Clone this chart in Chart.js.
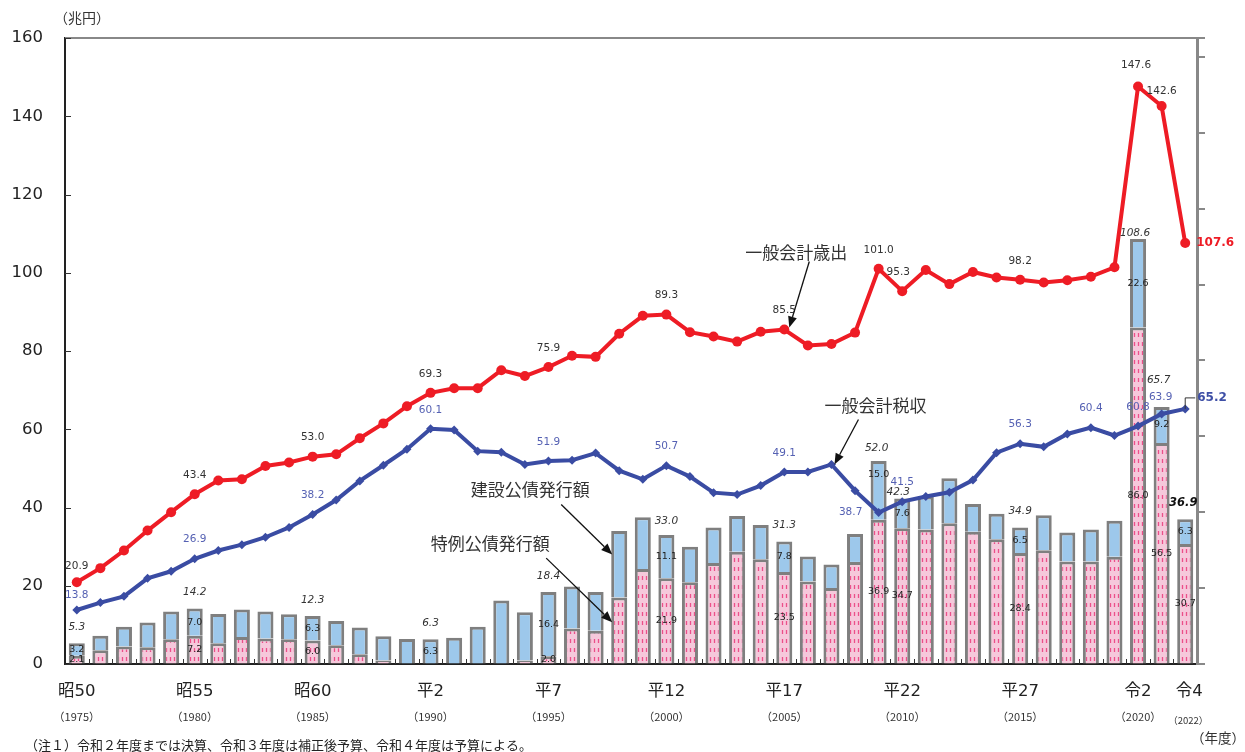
<!DOCTYPE html>
<html>
<head>
<meta charset="utf-8">
<script src="https://cdn.jsdelivr.net/npm/chart.js@4.4.1/dist/chart.umd.min.js"></script>
<style>
  html, body { margin: 0; padding: 0; background: #fff; }
</style>
</head>
<body>
<canvas id="myChart" width="1245" height="752"></canvas>
<script>
// fiscal years 1975 - 2022, trillion yen
const years = [1975, 1976, 1977, 1978, 1979, 1980, 1981, 1982, 1983, 1984,
               1985, 1986, 1987, 1988, 1989, 1990, 1991, 1992, 1993, 1994,
               1995, 1996, 1997, 1998, 1999, 2000, 2001, 2002, 2003, 2004,
               2005, 2006, 2007, 2008, 2009, 2010, 2011, 2012, 2013, 2014,
               2015, 2016, 2017, 2018, 2019, 2020, 2021, 2022];

const expenditure = [20.9, 24.5, 29.0, 34.1, 38.8, 43.4, 46.9, 47.2, 50.6, 51.5,
                     53.0, 53.6, 57.7, 61.5, 65.9, 69.3, 70.5, 70.5, 75.1, 73.6,
                     75.9, 78.8, 78.5, 84.4, 89.0, 89.3, 84.8, 83.7, 82.4, 84.9,
                     85.5, 81.4, 81.8, 84.7, 101.0, 95.3, 100.7, 97.1, 100.2, 98.8,
                     98.2, 97.5, 98.1, 99.0, 101.4, 147.6, 142.6, 107.6];

const taxRevenue = [13.8, 15.7, 17.3, 21.9, 23.7, 26.9, 29.0, 30.5, 32.4, 34.9,
                    38.2, 41.9, 46.8, 50.8, 54.9, 60.1, 59.8, 54.4, 54.1, 51.0,
                    51.9, 52.1, 53.9, 49.4, 47.2, 50.7, 47.9, 43.8, 43.3, 45.6,
                    49.1, 49.1, 51.0, 44.3, 38.7, 41.5, 42.8, 43.9, 47.0, 54.0,
                    56.3, 55.5, 58.8, 60.4, 58.4, 60.8, 63.9, 65.2];

const constructionBonds = [3.2, 3.7, 5.0, 6.3, 7.1, 7.0, 7.5, 7.0, 6.9, 6.4,
                           6.3, 6.2, 6.8, 6.2, 6.4, 6.3, 6.7, 9.5, 16.2, 12.3,
                           16.4, 10.7, 9.9, 17.0, 13.2, 11.1, 9.1, 9.1, 9.1, 8.7,
                           7.8, 6.4, 6.0, 7.1, 15.0, 7.6, 8.4, 11.5, 7.1, 6.5,
                           6.5, 8.9, 7.4, 8.2, 9.2, 22.6, 9.2, 6.3];

const specialBonds = [2.1, 3.5, 4.5, 4.3, 6.3, 7.2, 5.3, 6.9, 6.5, 6.3,
                      6.0, 4.8, 2.5, 0.9, 0, 0, 0, 0, 0, 0.9,
                      2.0, 9.1, 8.5, 17.0, 24.3, 21.9, 20.9, 25.8, 28.7, 26.8,
                      23.5, 21.1, 19.4, 26.1, 36.9, 34.7, 34.4, 36.0, 33.8, 31.9,
                      28.4, 29.1, 26.2, 26.2, 27.4, 86.0, 56.5, 30.7];

// labelled points
const expLabelYears = [1975, 1980, 1985, 1990, 1995, 2000, 2005, 2009, 2010, 2015, 2020, 2021, 2022];
const taxLabelYears = [1975, 1980, 1985, 1990, 1995, 2000, 2005, 2009, 2010, 2015, 2018, 2020, 2021, 2022];
const bondLabelYears = [1975, 1980, 1985, 1990, 1995, 2000, 2005, 2009, 2010, 2015, 2020, 2021, 2022];
const bondTotalLabels = ['5.3', '14.2', '12.3', '6.3', '18.4', '33.0', '31.3', '52.0', '42.3', '34.9', '108.6', '65.7', '36.9'];

// x axis labels
const tickYears = [1975, 1980, 1985, 1990, 1995, 2000, 2005, 2010, 2015, 2020, 2022];
const tickEras = ['昭50', '昭55', '昭60', '平2', '平7', '平12', '平17', '平22', '平27', '令2', '令4'];

const F = "'DejaVu Sans', 'Noto Sans CJK JP', sans-serif";
const J = "'Noto Sans CJK JP', sans-serif";

const ctx = document.getElementById('myChart').getContext('2d');

// pink bar with little red dashes
const pinkPattern = (() => {
    const c = document.createElement('canvas');
    c.width = 8; c.height = 9;
    const g = c.getContext('2d');
    g.fillStyle = '#F6C8DB';
    g.fillRect(0, 0, 8, 9);
    g.strokeStyle = '#EC4F8A';
    g.lineWidth = 1.3;
    g.beginPath();
    g.moveTo(2.5, 0); g.lineTo(2.5, 4);
    g.moveTo(6.5, 0); g.lineTo(6.5, 4);
    g.stroke();
    return ctx.createPattern(c, 'repeat');
})();

// label nudges (px)
const expPos = { 1975: [0, -16], 2010: [-4, -19], 2020: [-2, -21], 2021: [0, -15] };
const taxPos = { 1975: [0, -15], 2009: [-28, 0], 2021: [-1, -17] };
const totalPos = { 2000: [0, -14], 2009: [-2, -13], 2010: [-4, -6], 2020: [-3, -6], 2021: [-3, -27] };

function text(c, s, x, y, font, color, align) {
    c.font = font;
    c.fillStyle = color;
    c.textAlign = align || 'center';
    c.textBaseline = 'middle';
    c.fillText(s, x, y);
}

function line(c, x1, y1, x2, y2) {
    c.beginPath(); c.moveTo(x1, y1); c.lineTo(x2, y2); c.stroke();
}

function arrow(c, x1, y1, x2, y2) {
    c.strokeStyle = '#111';
    c.fillStyle = '#111';
    c.lineWidth = 1.3;
    const ang = Math.atan2(y2 - y1, x2 - x1);
    const hl = 11, hw = 4.5;
    const bx = x2 - hl * Math.cos(ang), by = y2 - hl * Math.sin(ang);
    line(c, x1, y1, bx, by);
    c.beginPath();
    c.moveTo(x2, y2);
    c.lineTo(bx + hw * Math.sin(ang), by - hw * Math.cos(ang));
    c.lineTo(bx - hw * Math.sin(ang), by + hw * Math.cos(ang));
    c.closePath();
    c.fill();
}

const overlay = {
    id: 'overlay',
    afterDatasetsDraw(chart) {
        const c = chart.ctx;
        const a = chart.chartArea;
        const x = chart.scales.x, y = chart.scales.y;
        const sp = chart.getDatasetMeta(0).data;
        const cn = chart.getDatasetMeta(1).data;
        const ex = chart.getDatasetMeta(2).data;
        const tx = chart.getDatasetMeta(3).data;
        c.save();

        // frame bits
        c.strokeStyle = '#888'; c.lineWidth = 2;
        line(c, a.left, a.top, a.right, a.top);
        c.strokeStyle = '#333'; c.lineWidth = 1;
        y.ticks.forEach(t => {
            const py = Math.round(y.getPixelForValue(t.value)) + 0.5;
            line(c, a.left, py, a.left + 6, py);
        });
        for (let i = 0; i < years.length - 1; i++) {
            const bx = Math.round((x.getPixelForValue(i) + x.getPixelForValue(i + 1)) / 2) + 0.5;
            line(c, bx, a.bottom, bx, a.bottom - 5);
        }

        // bar labels
        bondLabelYears.forEach((yr, k) => {
            const i = years.indexOf(yr);
            const fs = "9.5px " + F;
            if (specialBonds[i] > 0) {
                text(c, specialBonds[i].toFixed(1), sp[i].x, (sp[i].y + sp[i].base) / 2, fs, '#222');
            }
            let cy = (cn[i].y + cn[i].base) / 2;
            if (yr === 2009) cy = cn[i].y + 14;
            text(c, constructionBonds[i].toFixed(1), cn[i].x, cy, fs, '#222');
            const p = totalPos[yr] || [0, -16];
            if (yr === 2022) {
                text(c, bondTotalLabels[k], cn[i].x - 2, cn[i].y - 16, "italic bold 11.5px " + F, '#111');
            } else {
                text(c, bondTotalLabels[k], cn[i].x + p[0], cn[i].y + p[1], "italic 10.5px " + F, '#333');
            }
        });

        // expenditure labels
        expLabelYears.forEach(yr => {
            const i = years.indexOf(yr);
            const pt = ex[i];
            if (yr === 2022) {
                text(c, expenditure[i].toFixed(1), pt.x + 11, pt.y, "bold 12px " + F, '#EE1C25', 'left');
                return;
            }
            const p = expPos[yr] || [0, -19];
            text(c, expenditure[i].toFixed(1), pt.x + p[0], pt.y + p[1], "10.5px " + F, '#333');
        });

        // tax labels
        taxLabelYears.forEach(yr => {
            const i = years.indexOf(yr);
            const pt = tx[i];
            if (yr === 2022) {
                c.strokeStyle = '#333'; c.lineWidth = 1;
                c.beginPath();
                c.moveTo(pt.x, pt.y); c.lineTo(pt.x, pt.y - 11); c.lineTo(pt.x + 10, pt.y - 11);
                c.stroke();
                text(c, taxRevenue[i].toFixed(1), pt.x + 12, pt.y - 11, "bold 12px " + F, '#3E4FA6', 'left');
                return;
            }
            const p = taxPos[yr] || [0, -19];
            text(c, taxRevenue[i].toFixed(1), pt.x + p[0], pt.y + p[1], "10.5px " + F, '#5561B3');
        });

        // annotations with arrows
        const iExp = years.indexOf(2005), iTax = years.indexOf(2007), iBar = years.indexOf(1998);
        let t1 = [ex[iExp].x + 5, ex[iExp].y - 2];
        arrow(c, t1[0] + 20, t1[1] - 66, t1[0], t1[1]);
        text(c, '一般会計歳出', t1[0] + 7, t1[1] - 75, "17px " + J, '#333');

        let t2 = [tx[iTax].x + 3, tx[iTax].y];
        arrow(c, t2[0] + 24, t2[1] - 45, t2[0], t2[1]);
        text(c, '一般会計税収', t2[0] + 41, t2[1] - 59, "17px " + J, '#333');

        let t3 = [cn[iBar].x - 7, y.getPixelForValue(28)];
        arrow(c, t3[0] - 51, t3[1] - 50, t3[0], t3[1]);
        text(c, '建設公債発行額', t3[0] - 82, t3[1] - 65, "17px " + J, '#333');

        let t4 = [sp[iBar].x - 7, y.getPixelForValue(10.7)];
        arrow(c, t4[0] - 66, t4[1] - 64, t4[0], t4[1]);
        text(c, '特例公債発行額', t4[0] - 122, t4[1] - 79, "17px " + J, '#333');

        // x axis category labels
        tickYears.forEach((yr, k) => {
            const px = x.getPixelForValue(years.indexOf(yr));
            text(c, tickEras[k], px + (yr === 2022 ? 4 : 0), a.bottom + 28, "16.5px " + F, '#222');
            if (yr === 2022) {
                text(c, '（' + yr + '）', px + 3, a.bottom + 56, "9.5px " + J, '#333');
            } else {
                text(c, '（' + yr + '）', px, a.bottom + 53, "11px " + J, '#333');
            }
        });

        // units and note
        text(c, '（兆円）', 82, 18, "14px " + J, '#333');
        text(c, '（年度）', 1218, 738, "13.5px " + J, '#333');
        text(c, '（注１）令和２年度までは決算、令和３年度は補正後予算、令和４年度は予算による。', 25, 745, "13px " + J, '#222', 'left');

        c.restore();
    }
};

const myChart = new Chart(ctx, {
    data: {
        labels: years,
        datasets: [
            {
                type: 'bar',
                label: '特例公債発行額',
                data: specialBonds,
                backgroundColor: pinkPattern,
                borderColor: '#7F7F7F',
                borderWidth: 3,
                barPercentage: 0.68,
                categoryPercentage: 1,
                stack: 'bonds',
                order: 3,
            },
            {
                type: 'bar',
                label: '建設公債発行額',
                data: constructionBonds,
                backgroundColor: '#9DC8EB',
                borderColor: '#7F7F7F',
                borderWidth: 3,
                barPercentage: 0.68,
                categoryPercentage: 1,
                stack: 'bonds',
                order: 3,
            },
            {
                type: 'line',
                label: '一般会計歳出',
                data: expenditure,
                borderColor: '#EE1C25',
                backgroundColor: '#EE1C25',
                borderWidth: 4,
                pointRadius: 5,
                pointBorderWidth: 0,
                pointStyle: 'circle',
                order: 1,
            },
            {
                type: 'line',
                label: '一般会計税収',
                data: taxRevenue,
                borderColor: '#3A4CA3',
                backgroundColor: '#3A4CA3',
                borderWidth: 4,
                pointRadius: 4.5,
                pointBorderWidth: 0,
                pointStyle: 'rectRot',
                order: 2,
            },
        ],
    },
    options: {
        responsive: false,
        animation: false,
        devicePixelRatio: 1,
        layout: { padding: { top: 38, left: 0, right: 0, bottom: 0 } },
        scales: {
            x: {
                type: 'category',
                offset: true,
                grid: { display: false },
                border: { display: true, color: '#222', width: 2 },
                ticks: { display: false },
                afterFit: s => { s.height = 88; },
            },
            y: {
                position: 'left',
                min: 0,
                max: 160,
                ticks: { stepSize: 20, padding: 22, color: '#222', font: { family: F, size: 16.5 } },
                grid: { drawOnChartArea: false, drawTicks: false },
                border: { display: true, color: '#222', width: 2 },
                afterFit: s => { s.width = 65; },
            },
            y2: {
                position: 'right',
                min: 0,
                max: 165,
                ticks: { display: false, stepSize: 20 },
                grid: { drawOnChartArea: false, drawTicks: true, tickLength: 8, color: '#888', lineWidth: 2 },
                border: { display: true, color: '#888', width: 3 },
                afterFit: s => { s.width = 48; },
            },
        },
        plugins: {
            legend: { display: false },
            tooltip: { enabled: false },
        },
    },
    plugins: [overlay],
});
</script>
</body>
</html>
